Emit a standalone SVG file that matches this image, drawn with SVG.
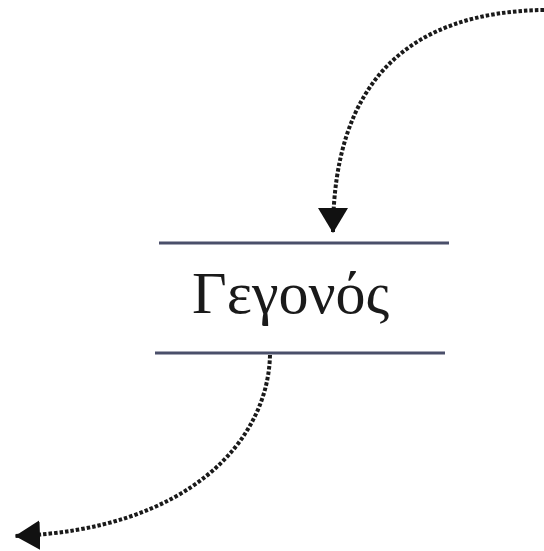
<svg xmlns="http://www.w3.org/2000/svg" width="544" height="551" viewBox="0 0 544 551">
<style>
.bar{stroke:#4a4f6a;stroke-width:3;fill:none}
.flow{stroke:#1a1a1a;stroke-width:4;fill:none;stroke-dasharray:3.5 2}
.lbl{font-family:"Liberation Serif","Times New Roman",serif;font-size:60px;fill:#1a1a1a}
</style>
<defs>
<marker id="ah" markerUnits="userSpaceOnUse" markerWidth="32" markerHeight="32" refX="25" refY="15" orient="auto" viewBox="0 0 32 32">
<path d="M0,0 L25,15 L0,30 z" fill="#111"/>
</marker>
</defs>
<rect width="544" height="551" fill="#fff"/>
<g id="connectors">
<path class="flow" d="M544,10 C410,12 333,80 333,233" marker-end="url(#ah)"/>
<path class="flow" d="M270,355 C268,440 190,530 15,536" marker-end="url(#ah)"/>
</g>
<g id="event">
<line class="bar" x1="159" y1="243" x2="449" y2="243"/>
<line class="bar" x1="155" y1="353" x2="445" y2="353"/>
<text class="lbl" x="192" y="313">Γεγονός</text>
</g>
</svg>
